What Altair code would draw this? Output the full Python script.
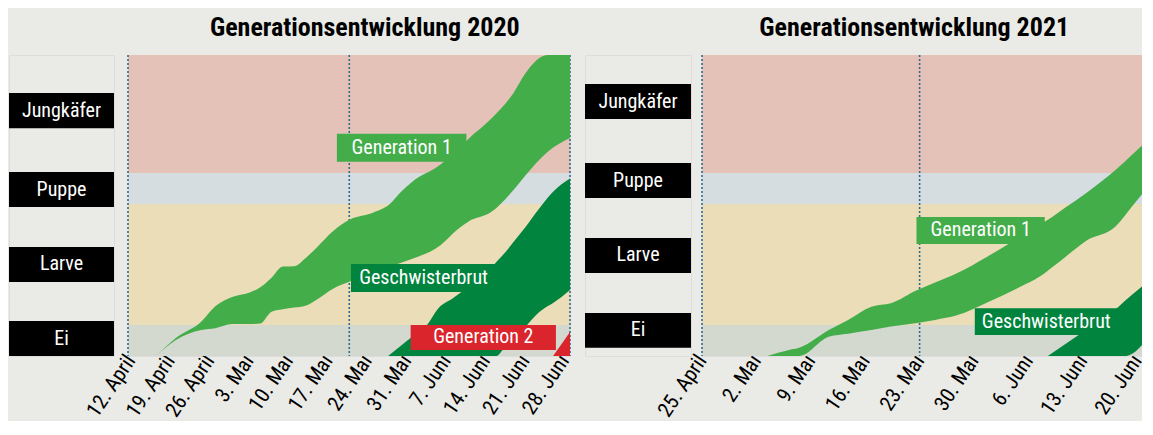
import altair as alt
import pandas as pd

FONT = "Roboto Condensed, Liberation Sans Narrow, DejaVu Sans Condensed, Arial Narrow, sans-serif"
BG = "#EAEBE6"

# ---------------- shared categories ----------------
stage_names = ["Ei", "Larve", "Puppe", "Jungkäfer"]
stage_lo = [0.0, 10.3, 50.5, 60.8]
stage_hi = [10.3, 50.5, 60.8, 100.0]
series_names = ["Generation 1", "Geschwisterbrut", "Generation 2"]
color_domain = stage_names + series_names
color_range = ["#D4D9CF", "#EBDDB8", "#D5DDE0", "#E4C2B7", "#43AD4A", "#00843E", "#D9252B"]

# ---------------- 2020 (days since 12 April 2020) ----------------
start_2020 = "2020-04-12"
xdom_2020 = [-0.5, 78.0]
ticks_2020 = [0, 7, 14, 21, 28, 35, 42, 49, 56, 63, 70, 77]
vlines_2020 = [-0.5, 38.8, 78.0]

g1_2020_day = [4.5, 8, 12.5, 15, 18, 21, 23, 25, 27, 29, 31, 33, 36, 39, 43, 46, 48, 50, 55, 58, 60, 64, 68, 70, 74, 78]
g1_2020_hi = [0, 6.0, 11.4, 16.5, 19.6, 21.0, 22.8, 26.0, 29.7, 29.8, 32.5, 36.0, 41.6, 45.4, 47.6, 50.5, 54.6, 57.9, 63.6, 68.5, 72.2, 78.8, 87.5, 93.7, 100, 100]
g1_2020_lo = [0, 5.3, 8.6, 9.2, 10.6, 10.6, 10.8, 14.7, 15.5, 16.1, 16.7, 18.7, 22.4, 24.8, 27.6, 29.6, 31.0, 32.3, 36.8, 42.0, 44.7, 47.8, 55.2, 59.8, 67.8, 72.4]

gb_2020_day = [45.7, 50, 52.6, 54.6, 57.2, 60, 62.5, 65, 66, 69, 70, 72.3, 74, 75, 78]
gb_2020_hi = [0, 6.5, 10.3, 15.8, 19.2, 22.9, 26.3, 31.4, 33.4, 40.3, 42.6, 48.4, 52.5, 54.6, 59.0]
gb_2020_lo = [0, 0, 0, 0, 0, 0, 0, 0, 1.9, 7.5, 9.5, 14.2, 16.5, 17.6, 21.9]

g2_2020_day = [75.0, 78.0]
g2_2020_hi = [0, 8.0]
g2_2020_lo = [0, 0]

lab_2020_series = ["Generation 1", "Geschwisterbrut", "Generation 2"]
lab_2020_d0 = [36.6, 39.1, 49.7]
lab_2020_d1 = [59.6, 64.9, 75.5]
lab_2020_v0 = [64.5, 21.3, 2.0]
lab_2020_v1 = [73.8, 30.6, 10.3]

stagebox_2020_lo = [0.0, 24.6, 49.5, 75.7]
stagebox_2020_hi = [11.6, 36.2, 61.1, 87.4]

# ---------------- 2021 (days since 25 April 2021) ----------------
start_2021 = "2021-04-25"
xdom_2021 = [0.0, 57.0]
ticks_2021 = [0, 7, 14, 21, 28, 35, 42, 49, 56]
vlines_2021 = [0.0, 28.0]

g1_2021_day = [8.4, 11.2, 12.5, 16.3, 18.8, 21.8, 24.3, 27.7, 30, 32.8, 36.7, 40.9, 43.4, 45.1, 46.8, 49.4, 53.2, 55.3, 57.4]
g1_2021_hi = [0, 2.0, 2.7, 8.6, 12.0, 16.4, 17.5, 21.9, 24.4, 27.5, 33.0, 39.6, 43.6, 46.3, 49.4, 54.1, 61.8, 66.8, 71.8]
g1_2021_lo = [0, 0, 0, 6.4, 7.4, 8.6, 9.8, 11.0, 12.0, 13.5, 17.8, 22.9, 26.3, 29.6, 33.0, 38.2, 43.0, 49.6, 56.2]

gb_2021_day = [44.5, 49.4, 53.6, 54.5, 57.4]
gb_2021_hi = [0, 8.6, 16.4, 18.5, 24.7]
gb_2021_lo = [0, 0, 0, 0, 6.0]

lab_2021_series = ["Generation 1", "Geschwisterbrut"]
lab_2021_d0 = [27.6, 35.1]
lab_2021_d1 = [44.1, 53.5]
lab_2021_v0 = [37.2, 7.0]
lab_2021_v1 = [46.2, 15.9]

stagebox_2021_lo = [2.7, 27.6, 52.5, 78.7]
stagebox_2021_hi = [14.3, 39.2, 64.1, 90.4]

MONTHS = "['Januar','Februar','März','April','Mai','Juni','Juli','August','September','Oktober','November','Dezember']"
PLOT_H = 301


def to_str(base, days):
    b = pd.Timestamp(base)
    return [(b + pd.Timedelta(days=float(d))).strftime("%Y-%m-%dT%H:%M:%S") for d in days]


def to_dt(base, d):
    t = pd.Timestamp(base) + pd.Timedelta(days=float(d))
    return alt.DateTime(year=t.year, month=t.month, date=t.day, hours=t.hour, minutes=t.minute)


y_scale = alt.Scale(domain=[0, 100], nice=False, zero=False)
color_scale = alt.Scale(domain=color_domain, range=color_range)


def plot_panel(base, xdom, ticks, vlines, series, labels, width):
    x_scale = alt.Scale(domain=[to_dt(base, xdom[0]), to_dt(base, xdom[1])], nice=False)
    x_axis = alt.Axis(
        values=[to_dt(base, t) for t in ticks],
        labelExpr="date(datum.value) + '. ' + " + MONTHS + "[month(datum.value)]",
        labelAngle=-56, labelAlign="right", labelBaseline="middle",
        labelFont=FONT, labelFontSize=21, labelColor="black", labelPadding=1,
        domain=False, ticks=False, grid=False, title=None, labelOverlap=False,
    )
    bands_df = pd.DataFrame({"stage": stage_names, "lo": stage_lo, "hi": stage_hi})
    bands = alt.Chart(bands_df).mark_rect().encode(
        y=alt.Y("lo:Q", scale=y_scale, axis=None),
        y2="hi:Q",
        color=alt.Color("stage:N", scale=color_scale, legend=None),
    )
    rules_df = pd.DataFrame({"date": to_str(base, vlines)})
    rules = alt.Chart(rules_df).mark_rule(color="#2F6C93", strokeDash=[2, 2], strokeWidth=1.6).encode(
        x=alt.X("date:T", scale=x_scale, axis=x_axis)
    )
    rows = []
    for name, days, hi, lo in series:
        for d, h, l in zip(to_str(base, days), hi, lo):
            rows.append({"series": name, "date": d, "hi": h, "lo": l})
    areas = alt.Chart(pd.DataFrame(rows)).mark_area(interpolate="monotone", clip=True).encode(
        x=alt.X("date:T", scale=x_scale, axis=x_axis),
        y=alt.Y("hi:Q", scale=y_scale, axis=None, stack=None),
        y2="lo:Q",
        color=alt.Color("series:N", scale=color_scale, legend=None),
    )
    names, d0, d1, v0, v1 = labels
    mids = [(a + b) / 2 for a, b in zip(d0, d1)]
    lab_df = pd.DataFrame({
        "series": names, "d0": to_str(base, d0), "d1": to_str(base, d1),
        "dm": to_str(base, mids), "v0": v0, "v1": v1,
        "vm": [(a + b) / 2 for a, b in zip(v0, v1)],
    })
    boxes = alt.Chart(lab_df).mark_rect().encode(
        x=alt.X("d0:T", scale=x_scale, axis=x_axis), x2="d1:T",
        y=alt.Y("v0:Q", scale=y_scale, axis=None), y2="v1:Q",
        color=alt.Color("series:N", scale=color_scale, legend=None),
    )
    texts = alt.Chart(lab_df).mark_text(color="white", font=FONT, fontSize=20, baseline="middle", align="center").encode(
        x=alt.X("dm:T", scale=x_scale, axis=x_axis),
        y=alt.Y("vm:Q", scale=y_scale, axis=None),
        text="series:N",
    )
    return alt.layer(bands, rules, areas, boxes, texts).properties(width=width, height=PLOT_H)


def stage_panel(lo, hi, width):
    df = pd.DataFrame({"stage": stage_names, "lo": lo, "hi": hi,
                       "mid": [(a + b) / 2 for a, b in zip(lo, hi)]})
    box = alt.Chart(df).mark_rect(color="black").encode(
        y=alt.Y("lo:Q", scale=y_scale, axis=None), y2="hi:Q"
    )
    txt = alt.Chart(df).mark_text(color="white", font=FONT, fontSize=20, baseline="middle", align="center").encode(
        y=alt.Y("mid:Q", scale=y_scale, axis=None), text="stage:N"
    )
    return alt.layer(box, txt).properties(width=width, height=PLOT_H)


p2020 = plot_panel(
    start_2020, xdom_2020, ticks_2020, vlines_2020,
    [("Generation 1", g1_2020_day, g1_2020_hi, g1_2020_lo),
     ("Geschwisterbrut", gb_2020_day, gb_2020_hi, gb_2020_lo),
     ("Generation 2", g2_2020_day, g2_2020_hi, g2_2020_lo)],
    (lab_2020_series, lab_2020_d0, lab_2020_d1, lab_2020_v0, lab_2020_v1),
    442,
)
p2021 = plot_panel(
    start_2021, xdom_2021, ticks_2021, vlines_2021,
    [("Generation 1", g1_2021_day, g1_2021_hi, g1_2021_lo),
     ("Geschwisterbrut", gb_2021_day, gb_2021_hi, gb_2021_lo)],
    (lab_2021_series, lab_2021_d0, lab_2021_d1, lab_2021_v0, lab_2021_v1),
    443,
)

title_common = dict(font=FONT, fontSize=26, fontWeight="bold", color="black", anchor="middle", offset=13)

g1 = alt.hconcat(stage_panel(stagebox_2020_lo, stagebox_2020_hi, 105), p2020, spacing=14, bounds="flush",
                 title=alt.TitleParams("Generationsentwicklung 2020", dx=74, **title_common))
g2 = alt.hconcat(stage_panel(stagebox_2021_lo, stagebox_2021_hi, 106), p2021, spacing=11, bounds="flush",
                 title=alt.TitleParams("Generationsentwicklung 2021", dx=49, **title_common))

chart = alt.hconcat(g1, g2, spacing=10).properties(
    background=BG, padding={"left": 0, "right": -5, "top": 6, "bottom": 0}
).configure_view(strokeWidth=0).configure(font=FONT)

chart.save("out.html", embed_options={"renderer": "svg", "actions": False})
